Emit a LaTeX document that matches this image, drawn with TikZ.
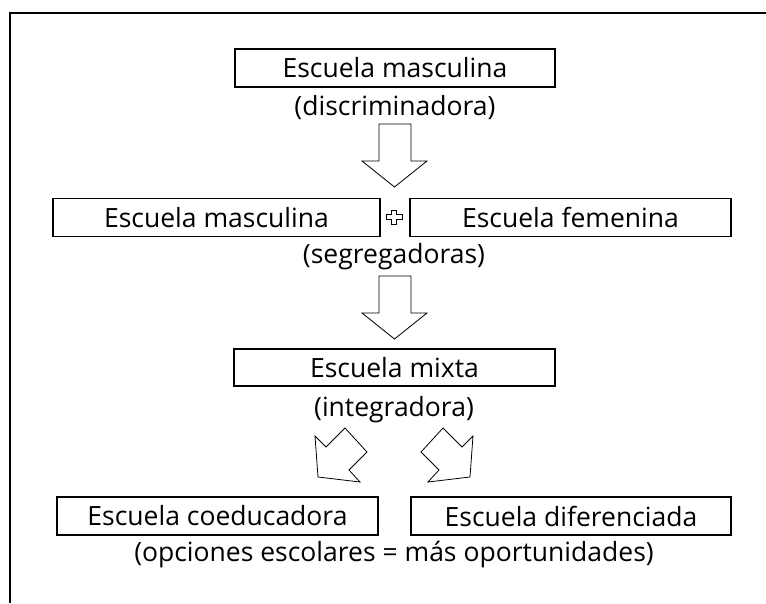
\documentclass[tikz,border=0pt]{standalone}
\usepackage{fontspec}
\setmainfont{Open Sans}
\begin{document}
\begin{tikzpicture}[x=1pt, y=-1pt,
    every node/.style={font=\fontsize{26.5}{30}\selectfont, inner sep=0pt},
    caja/.style={draw, line width=1.5pt, minimum height=38pt},
    cajagruesa/.style={caja, line width=2.8pt},
    flecha/.style={draw, line width=0.8pt, fill=white, line join=miter}]
      \useasboundingbox (0,0) rectangle (766,603);
      \draw[line width=2pt] (766,13) -- (10,13) -- (10,603);
      % nivel 1
      \node[caja, minimum width=320pt] (masc0) at (395,68) {Escuela masculina};
      \node (discr) at (395,108) {(discriminadora)};
      \draw[flecha] (379,124) -- (411,124) -- (411,161) -- (427,161) -- (394.5,187) -- (362,161) -- (379,161) -- cycle;
      % nivel 2
      \node[caja, minimum width=327pt] (masc) at (216.5,217.5) {Escuela masculina};
      \node[caja, minimum width=321pt] (fem) at (570.5,217.5) {Escuela femenina};
      \draw[line width=0.8pt] (391.5,210) -- (396.5,210) -- (396.5,214.5) -- (402,214.5) -- (402,219.5)
        -- (396.5,219.5) -- (396.5,224) -- (391.5,224) -- (391.5,219.5) -- (386,219.5) -- (386,214.5)
        -- (391.5,214.5) -- cycle;
      \node (segr) at (394,257) {(segregadoras)};
      \draw[flecha] (379,276) -- (411,276) -- (411,313) -- (427,313) -- (394.5,339) -- (362,313) -- (379,313) -- cycle;
      % nivel 3
      \node[caja, line width=2pt, minimum width=321pt, minimum height=37pt] (mixta) at (394.5,367.5) {Escuela mixta};
      \node (integ) at (394,410) {(integradora)};
      \draw[flecha] (315,436) -- (326,447) -- (345,428) -- (367,452) -- (349,470) -- (360,482) -- (318,477) -- cycle;
      \draw[flecha] (473,436) -- (462,447) -- (443,428) -- (421,452) -- (439,470) -- (428,482) -- (470,477) -- cycle;
      % nivel 4
      \node[cajagruesa, minimum width=321pt] (coed) at (217.5,516) {Escuela coeducadora};
      \node[cajagruesa, minimum width=320pt] (dif) at (571,516) {Escuela diferenciada};
      \node (opc) at (394,555) {(opciones escolares = más oportunidades)};
    \end{tikzpicture}
\end{document}
